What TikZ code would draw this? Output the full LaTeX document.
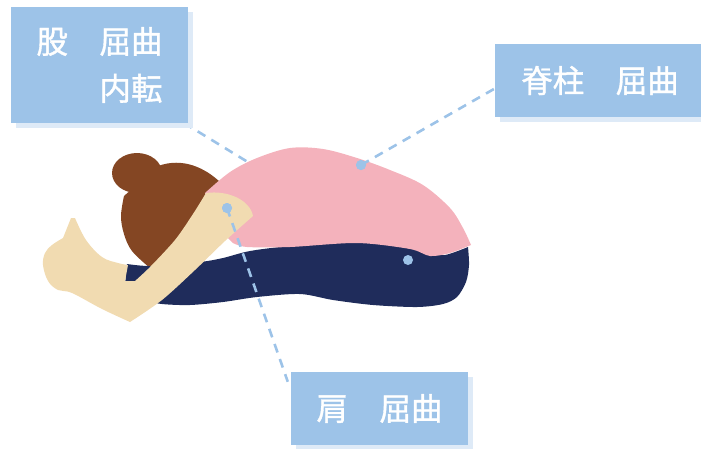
\documentclass[tikz,border=0pt]{standalone}
\usepackage{fontspec}
\newfontfamily\jpfont[FakeBold=1.2]{Noto Sans CJK JP}
\usetikzlibrary{calc,shadows}
\definecolor{labelblue}{HTML}{9DC3E8}
\definecolor{shadowblue}{HTML}{DEEAF7}
\definecolor{shirtpink}{HTML}{F4B2BC}
\definecolor{pantsnavy}{HTML}{1F2C5B}
\definecolor{skintone}{HTML}{F1DBB1}
\definecolor{hairbrown}{HTML}{844623}
\begin{document}
\begin{tikzpicture}[x=1pt,y=-1pt,
  labelbox/.style={fill=labelblue, draw=none, inner sep=0pt, text=white,
    font=\jpfont\fontsize{31.5}{47}\selectfont,
    copy shadow={shadow xshift=5pt, shadow yshift=-5pt, fill=shadowblue, draw=none}},
  connector/.style={labelblue, line width=2.6pt, dash pattern=on 9pt off 7pt},
  jointdot/.style={circle, fill=labelblue, draw=none, inner sep=0pt, minimum size=10pt}]

% joint markers (placed first so connectors can refer to them)
\node[jointdot, opacity=0] (hipdot) at (408,260) {};
\coordinate (hipstart) at (184,123);

% hip connector runs behind the body
\draw[connector] (hipstart) -- (hipdot.center);

% hair: bun and head
\fill[hairbrown] (137,173) ellipse [x radius=25pt, y radius=20pt];
\fill[hairbrown] (158,166) .. controls (183,157) and (205,168) .. (220,182)
  -- (226,205) -- (150,268)
  -- plot[smooth, tension=0.6] coordinates {(150,268) (132,251) (124,234) (121,216) (124,196)}
  -- cycle;

% legs
\fill[pantsnavy] plot[smooth, tension=0.5] coordinates {(127,264) (152,266) (200,262) (223,258) (250,251) (290,246) (357,241) (407,245) (428,253) (445,255) (468,247)}
  -- plot[smooth, tension=0.5] coordinates {(468,247) (469,265) (466,282) (457,297) (443,304) (417,307) (373,305) (333,300) (300,294) (257,297) (223,302) (190,305) (162,304) (140,300)}
  -- (125,285) -- cycle;

% back / shirt
\fill[shirtpink] plot[smooth, tension=0.55] coordinates {(205,193) (230,172) (257,158) (290,148) (323,149) (357,158) (390,170) (423,185) (450,208) (463,228) (471,245)}
  -- plot[smooth, tension=0.5] coordinates {(471,245) (450,253) (430,256) (410,249) (357,243) (290,247) (247,247) (233,243)}
  -- (215,225) -- cycle;

% arm and hand
\fill[skintone] (206,193) .. controls (228,190) and (250,200) .. (253,216)
  -- plot[smooth, tension=0.5] coordinates {(253,216) (225,241) (195,270) (162,300) (130,322)}
  -- plot[smooth, tension=0.6] coordinates {(130,322) (102,309) (72,293) (58,290) (48,281) (43,265) (45,253) (52,245) (63,238)}
  -- (71,218) -- (75,218)
  -- plot[smooth, tension=0.6] coordinates {(75,218) (86,240) (102,257) (118,263) (128,265)}
  -- (125,281) -- (135,281)
  -- plot[smooth, tension=0.5] coordinates {(135,281) (150,267) (175,240) (193,214) (206,193)}
  -- cycle;

% labels
\node[labelbox, minimum width=177pt, minimum height=116pt, align=right] (hipbox) at (99.5,65) {股　屈曲\\内転};
\node[labelbox, minimum width=210pt, minimum height=73pt] (spinebox) at (600,80.5) {脊柱　屈曲};
\node[labelbox, minimum width=177pt, minimum height=73pt] (shoulderbox) at (379.5,408.5) {肩　屈曲};

% remaining joint markers and connectors
\node[jointdot] (spinedot) at (361,165) {};
\node[jointdot] (shoulderdot) at (227,208) {};
\coordinate (spineend) at ($(spinebox.west)+(0,8)$);
\coordinate (shoulderend) at ($(shoulderbox.north west)+(-3,10)$);
\draw[connector] (spinedot.center) -- (spineend);
\draw[connector] (shoulderdot.center) -- (shoulderend);
\node[jointdot] at (spinedot) {};
\node[jointdot] at (shoulderdot) {};
\node[jointdot] at (hipdot) {};

% page frame
\pgfresetboundingbox
\useasboundingbox (0,0) rectangle (701,448);
\end{tikzpicture}
\end{document}
